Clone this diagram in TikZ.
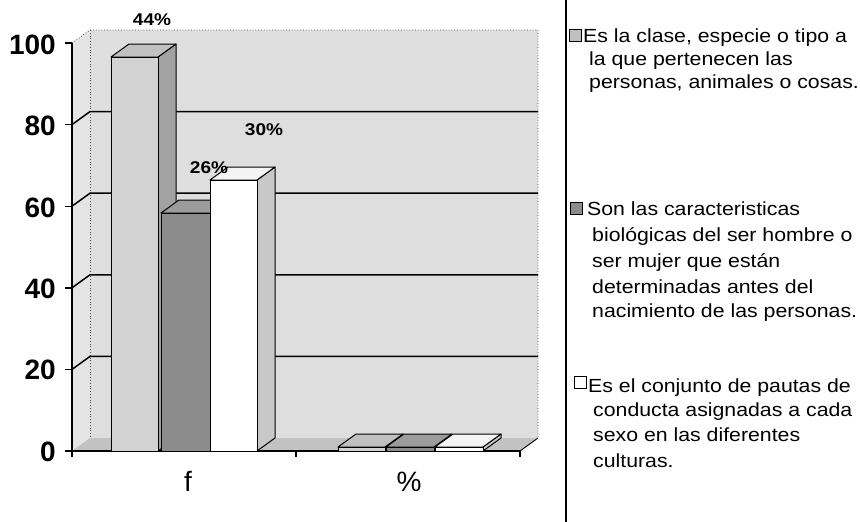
\documentclass[tikz,border=0pt]{standalone}
\usepackage{fontspec}
\setmainfont{Liberation Sans}
\newfontfamily\legfont[FakeStretch=1.12]{Liberation Sans}
\definecolor{wallgray}{HTML}{DEDEDE}
\definecolor{sidegray}{HTML}{E4E4E4}
\definecolor{floorgray}{HTML}{C2C2C2}
\definecolor{bOneF}{HTML}{D2D2D2}
\definecolor{bOneT}{HTML}{C0C0C0}
\definecolor{bOneS}{HTML}{A2A2A2}
\definecolor{bTwoF}{HTML}{8C8C8C}
\definecolor{bTwoT}{HTML}{9C9C9C}
\definecolor{bTwoS}{HTML}{707070}
\definecolor{bThrF}{HTML}{FFFFFF}
\definecolor{bThrT}{HTML}{F4F4F4}
\definecolor{bThrS}{HTML}{C8C8C8}
% #1 x-left, #2 x-right, #3 y-top (front), #4 front, #5 top, #6 side
\newcommand\tdbar[6]{%
  \filldraw[barline,fill=#6] (#2,451) -- (#2,#3) -- (#2+18,#3-13) -- (#2+18,438) -- cycle;
  \filldraw[barline,fill=#5] (#1,#3) -- (#2,#3) -- (#2+18,#3-13) -- (#1+18,#3-13) -- cycle;
  \filldraw[barline,fill=#4] (#1,#3) rectangle (#2,451);
}
\begin{document}
\begin{tikzpicture}[x=1pt,y=-1pt,
  barline/.style={draw=black,line width=1pt,line join=round},
  axisline/.style={draw=black,line width=1.4pt},
  gridline/.style={draw=black,line width=1.5pt},
  dotline/.style={draw=black!70,line width=0.8pt,dotted},
  ylab/.style={font=\fontsize{28}{30}\selectfont\bfseries,anchor=east,inner sep=0pt},
  pct/.style={font=\legfont\fontsize{17}{19}\selectfont\bfseries,inner sep=0pt},
  cat/.style={font=\fontsize{28}{30}\selectfont,inner sep=0pt},
  leg/.style={font=\legfont\fontsize{19}{22}\selectfont,anchor=base west,inner sep=0pt},
  legmark/.style={draw=black,line width=0.9pt}]
\useasboundingbox (0,0) rectangle (860,522);
\fill[white] (0,0) rectangle (860,522);
% walls and floor
\fill[sidegray] (72,451) -- (72,43) -- (90,30) -- (90,438) -- cycle;
\fill[wallgray] (90,30) rectangle (538,438);
\fill[floorgray] (72,451) -- (90,438) -- (538,438) -- (520,451) -- cycle;
\draw[dotline] (72,43) -- (90,30) -- (538,30) -- (538,438);
\draw[dotline] (90,30) -- (90,438);
\draw[draw=black,line width=0.9pt] (520,451) -- (538,438);
% gridlines
\foreach \v in {20,40,60,80}{
  \draw[gridline] (72,451-\v*4.08) -- (90,438-\v*4.08) -- (538,438-\v*4.08);
}
% axes
\draw[axisline] (72,43) -- (72,451) -- (520,451);
\foreach \v in {0,20,40,60,80,100}{
  \draw[axisline] (65,451-\v*4.08) -- (72,451-\v*4.08);
}
\foreach \x in {72,296,520}{
  \draw[axisline] (\x,451) -- (\x,457);
}
\node[ylab] (y100) at (56,45) {100};
\node[ylab] (y80) at (56,126) {80};
\node[ylab] (y60) at (56,208) {60};
\node[ylab] (y40) at (56,289) {40};
\node[ylab] (y20) at (56,370) {20};
\node[ylab] (y0) at (56,452) {0};
% bars, category f
\tdbar{111}{158}{57}{bOneF}{bOneT}{bOneS}
\tdbar{161}{211}{213}{bTwoF}{bTwoT}{bTwoS}
\tdbar{210}{257}{180}{bThrF}{bThrT}{bThrS}
% bars, category %
\tdbar{338}{385}{447}{bOneF}{bOneT}{bOneS}
\tdbar{386}{434}{447}{bTwoF}{bTwoT}{bTwoS}
\tdbar{435}{483}{447}{bThrF}{bThrT}{bThrS}
% category labels
\node[cat] (catf) at (188,481) {f};
\node[cat] (catp) at (409,482) {\%};
% percent labels
\node[pct] (p44) at (152,20) {44\%};
\node[pct] (p26) at (209,168) {26\%};
\node[pct] (p30) at (264,130) {30\%};
% legend
\draw[draw=black,line width=1.2pt] (566,0) -- (566,522);
\filldraw[legmark,fill=bOneT] (569,29) rectangle (581,41);
\node[leg] (l1a) at (583,42) {Es la clase, especie o tipo a};
\node[leg] (l1b) at (589,65) {la que pertenecen las};
\node[leg] (l1c) at (589,88) {personas, animales o cosas.};
\filldraw[legmark,fill=bTwoF] (570,202) rectangle (582,214);
\node[leg] (l2a) at (587,215) {Son las caracteristicas};
\node[leg] (l2b) at (592,241) {biológicas del ser hombre o};
\node[leg] (l2c) at (592,267) {ser mujer que están};
\node[leg] (l2d) at (592,293) {determinadas antes del};
\node[leg] (l2e) at (592,317) {nacimiento de las personas.};
\filldraw[legmark,fill=white] (574,376) rectangle (586,388);
\node[leg] (l3a) at (588,392) {Es el conjunto de pautas de};
\node[leg] (l3b) at (593,416) {conducta asignadas a cada};
\node[leg] (l3c) at (593,441) {sexo en las diferentes};
\node[leg] (l3d) at (593,467) {culturas.};
\end{tikzpicture}
\end{document}
